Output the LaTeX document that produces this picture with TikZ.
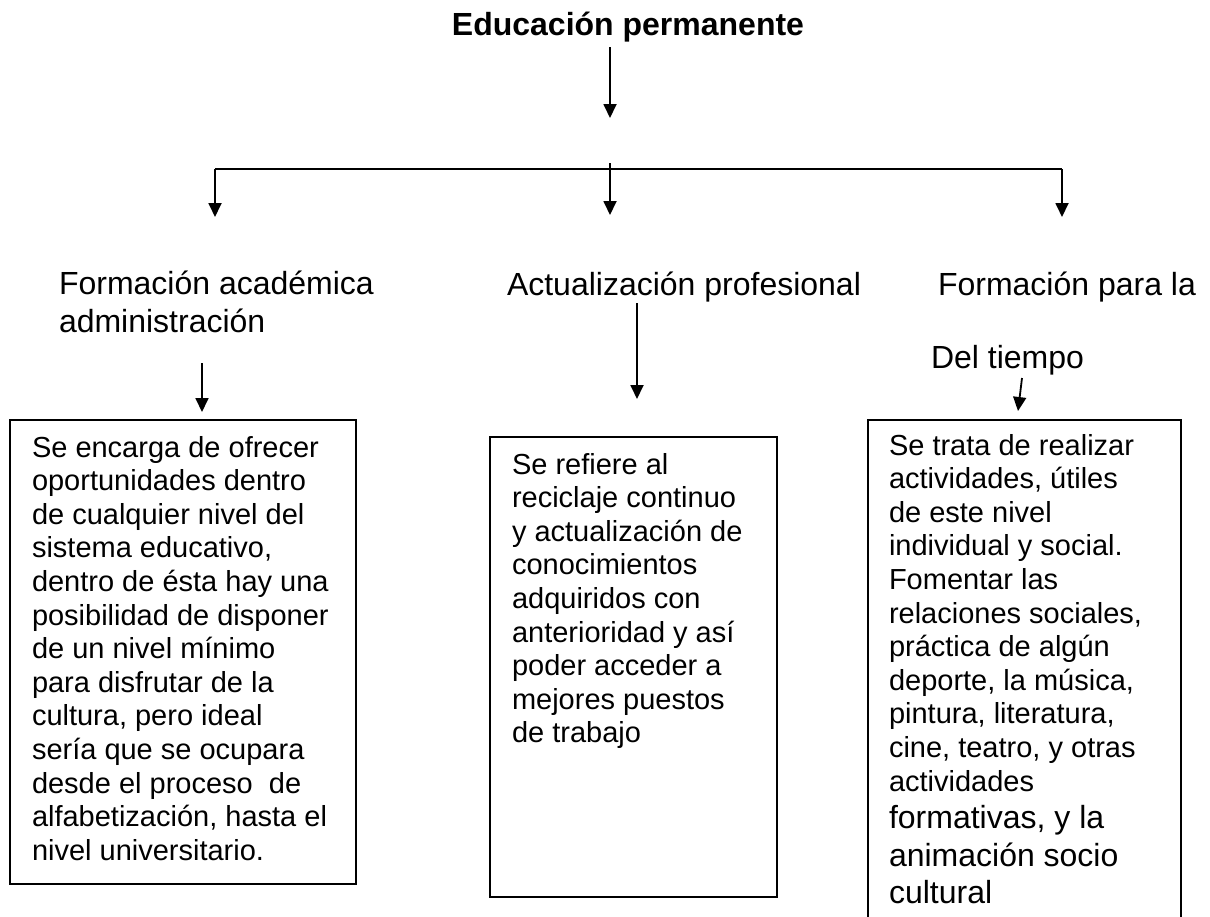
\documentclass[tikz,border=0pt]{standalone}
\usepackage{fontspec}
\setmainfont{Liberation Sans}
\usetikzlibrary{arrows.meta,positioning}
\tikzset{>={Triangle[length=14pt,width=13pt]},every node/.style={inner sep=0pt,outer sep=0pt},
  titulo/.style={anchor=base west,align=left,font=\fontsize{32}{38}\selectfont},
  cuerpo/.style={anchor=base west,align=left,font=\fontsize{29}{33.6}\selectfont},
  caja/.style={draw,line width=1.8pt}}

\begin{document}
\begin{tikzpicture}[x=1pt,y=-1pt,line width=1.8pt]
    \useasboundingbox (0,0) rectangle (1210,916);
    \node[anchor=base,font=\bfseries\fontsize{32}{38}\selectfont] (edu) at (628,35) {Educación permanente};
    \coordinate (e1) at (610,47);
    \coordinate (e2) at (610,118);
    \draw[->] (e1) -- (e2);
    % ramas
    \coordinate (r1) at (215,169);
    \coordinate (r2) at (1062,169);
    \coordinate (r3) at (610,163);
    \coordinate (f1) at (215,217);
    \coordinate (f2) at (610,215);
    \coordinate (f3) at (1062,217);
    \draw (r1) -- (r2);
    \draw[->] (r1) -- (f1);
    \draw[->] (r3) -- (f2);
    \draw[->] (r2) -- (f3);
    % titulos (base = ultima linea)
    \node[titulo] (acad) at (59,332) {Formación académica\\administración};
    \node[titulo] (act) at (507,295) {Actualización profesional};
    \node[titulo] (form) at (938,295) {Formación para la};
    \node[titulo] (tiempo) at (931,368) {Del tiempo};
    \coordinate (a1) at (202,363);
    \coordinate (a2) at (202,412);
    \coordinate (b1) at (637,303);
    \coordinate (b2) at (637,399);
    \coordinate (c1) at (1022,378);
    \coordinate (c2) at (1018,411);
    \draw[->] (a1) -- (a2);
    \draw[->] (b1) -- (b2);
    \draw[->] (c1) -- (c2);
    % cajas
    \draw[caja] (10,420) rectangle (356,884);
    \draw[caja] (490,437) rectangle (777,897);
    \draw[caja] (868,925) -- (868,420) -- (1181,420) -- (1181,925);
    \node[cuerpo] (caja1) at (32,860.2) {Se encarga de ofrecer\\oportunidades dentro\\de cualquier nivel del\\sistema educativo,\\dentro de ésta hay una\\posibilidad de disponer\\de un nivel mínimo\\para disfrutar de la\\cultura, pero ideal\\sería que se ocupara\\desde el proceso \ de\\alfabetización, hasta el\\nivel universitario.};
    \node[cuerpo] (caja2) at (512,742.8) {Se refiere al\\reciclaje continuo\\y actualización de\\conocimientos\\adquiridos con\\anterioridad y así\\poder acceder a\\mejores puestos\\de trabajo};
    \node[cuerpo] (caja3) at (889,903.8) {Se trata de realizar\\actividades, útiles\\de este nivel\\individual y social.\\Fomentar las\\relaciones sociales,\\práctica de algún\\deporte, la música,\\pintura, literatura,\\cine, teatro, y otras\\actividades\\[4pt]{\fontsize{32}{38}\selectfont formativas, y la}\\[4pt]{\fontsize{32}{38}\selectfont animación socio}\\[4pt]{\fontsize{32}{38}\selectfont cultural}};
\end{tikzpicture}
\end{document}
